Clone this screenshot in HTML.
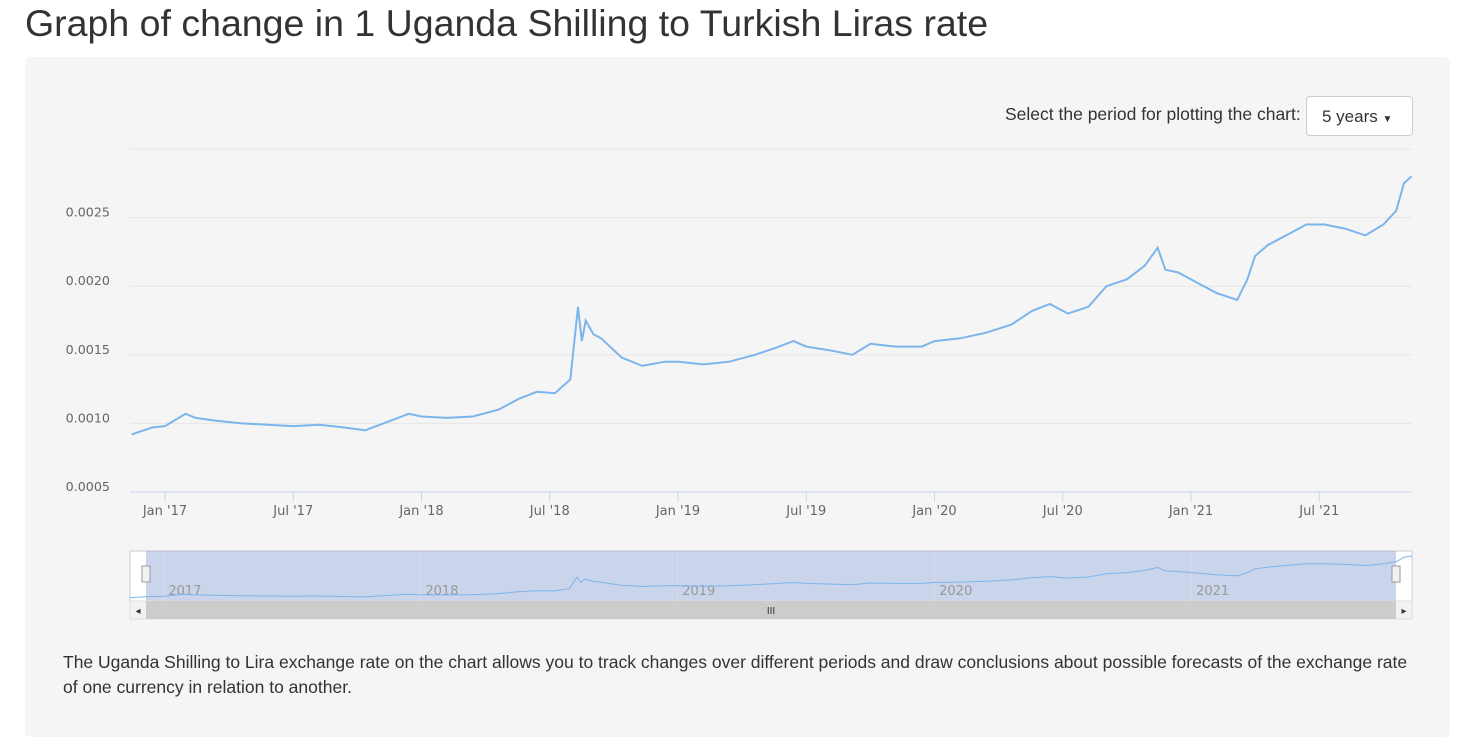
<!DOCTYPE html>
<html><head><meta charset="utf-8"><style>
body{margin:0;width:1472px;height:754px;background:#fff;font-family:"Liberation Sans",sans-serif;overflow:hidden;position:relative}
h1{position:absolute;left:25px;top:2px;margin:0;font-weight:400;font-size:37.5px;color:#333}
#panel{position:absolute;left:25px;top:57px;width:1425px;height:680px;background:#f5f5f5;border-radius:5px}
#sel-label{position:absolute;left:1005px;top:104px;font-size:17.5px;color:#333}
#period{position:absolute;left:1306px;top:96px;width:107px;height:40px;background:#fff;border:1px solid #ccc;border-radius:4px;font-size:17px;color:#333;box-sizing:border-box;padding:10px 0 0 15px}
#desc{position:absolute;left:63px;top:650px;width:1380px;font-size:17.5px;line-height:24.5px;color:#333;white-space:nowrap}
svg{position:absolute;left:0;top:0}
</style></head><body>
<h1>Graph of change in 1 Uganda Shilling to Turkish Liras rate</h1>
<div id="panel"></div>
<div id="sel-label">Select the period for plotting the chart:</div>
<div id="period">5 years <span style="font-size:10px">▼</span></div>
<svg id="chart" width="1472" height="754"></svg>
<div id="desc">The Uganda Shilling to Lira exchange rate on the chart allows you to track changes over different periods and draw conclusions about possible forecasts of the exchange rate<br>of one currency in relation to another.</div>
<script>
const dates=[2016.87,2016.95,2017.0,2017.08,2017.12,2017.2,2017.3,2017.4,2017.5,2017.6,2017.7,2017.78,2017.88,2017.95,2018.0,2018.1,2018.2,2018.3,2018.38,2018.45,2018.52,2018.58,2018.61,2018.625,2018.64,2018.67,2018.7,2018.78,2018.86,2018.95,2019.0,2019.1,2019.2,2019.3,2019.38,2019.45,2019.5,2019.6,2019.68,2019.75,2019.85,2019.95,2020.0,2020.1,2020.2,2020.3,2020.38,2020.45,2020.52,2020.6,2020.67,2020.75,2020.82,2020.87,2020.9,2020.95,2021.02,2021.1,2021.18,2021.22,2021.25,2021.3,2021.38,2021.45,2021.52,2021.6,2021.68,2021.75,2021.8,2021.83,2021.86];
const rates=[0.00092,0.00097,0.00098,0.00107,0.00104,0.00102,0.00100,0.00099,0.00098,0.00099,0.00097,0.00095,0.00102,0.00107,0.00105,0.00104,0.00105,0.00110,0.00118,0.00123,0.00122,0.00132,0.00185,0.00160,0.00175,0.00165,0.00162,0.00148,0.00142,0.00145,0.00145,0.00143,0.00145,0.00150,0.00155,0.00160,0.00156,0.00153,0.00150,0.00158,0.00156,0.00156,0.00160,0.00162,0.00166,0.00172,0.00182,0.00187,0.00180,0.00185,0.00200,0.00205,0.00215,0.00228,0.00212,0.00210,0.00203,0.00195,0.00190,0.00205,0.00222,0.00230,0.00238,0.00245,0.00245,0.00242,0.00237,0.00245,0.00255,0.00275,0.00280];
const yTicks=[0.0005,0.0010,0.0015,0.0020,0.0025,0.0030];
const xTickLabels=["Jan '17","Jul '17","Jan '18","Jul '18","Jan '19","Jul '19","Jan '20","Jul '20","Jan '21","Jul '21"];
const xTickDates=[2017,2017.5,2018,2018.5,2019,2019.5,2020,2020.5,2021,2021.5];
const navLabels=["2017","2018","2019","2020","2021"];
const NS="http://www.w3.org/2000/svg",svg=document.getElementById('chart');
const DV='"DejaVu Sans",sans-serif';
function el(t,a,txt){const e=document.createElementNS(NS,t);for(const k in a)e.setAttribute(k,a[k]);if(txt)e.textContent=txt;svg.appendChild(e);return e;}
const X=d=>165+(d-2017)*256.5;
const Y=v=>149+(0.0030-v)/0.0005*68.6;
yTicks.forEach(v=>{
 const g=el('line',{x1:130,x2:1412,y1:Y(v),y2:Y(v),stroke:v==0.0005?'#ccd6eb':'#e6e6e6'});
 
 if(v<0.003){const t=el('text',{x:110,y:Y(v)-1,'text-anchor':'end','font-size':12.7,fill:'#666','font-family':DV},v.toFixed(4));
 }
});
xTickDates.forEach((d,i)=>{
 const t=el('text',{x:X(d),y:515,'text-anchor':'middle','font-size':13,fill:'#666','font-family':DV},xTickLabels[i]);
 
 const k=el('line',{x1:X(d),x2:X(d),y1:492,y2:502,stroke:'#ccd6eb'});
 
});
const p=el('path',{d:dates.map((d,i)=>(i?'L':'M')+X(d).toFixed(1)+','+Y(rates[i]).toFixed(1)).join(''),fill:'none',stroke:'#7cb5ec','stroke-width':2});

const nb=el('rect',{x:130,y:551,width:1282,height:50,fill:'#fff',stroke:'#ccc'});

const ns=el('rect',{x:146,y:551,width:1250,height:50,fill:'rgba(102,133,194,0.35)'});

const NX=d=>130+(d-2016.87)/(2021.86-2016.87)*1282;
const NY=v=>598-(v-0.0009)/(0.0028-0.0009)*42;
navLabels.forEach((l,i)=>{const x=NX(2017+i);
 const gl=el('line',{x1:x,x2:x,y1:551,y2:601,stroke:'#e6e6e6','stroke-opacity':0.5});
 const t=el('text',{x:x+5,y:595,'font-size':13,fill:'#999','font-family':DV},l);});
const np=el('path',{d:dates.map((d,i)=>(i?'L':'M')+NX(d).toFixed(1)+','+NY(rates[i]).toFixed(1)).join(''),fill:'none',stroke:'#7cb5ec','stroke-width':1});

[146,1396].forEach(x=>{const h=el('rect',{x:x-4,y:566,width:8,height:16,fill:'#f2f2f2',stroke:'#999'});
 });
const sb=el('rect',{x:130,y:601,width:1282,height:18,fill:'#f2f2f2',stroke:'#ddd'});
const st=el('rect',{x:146,y:601,width:1250,height:18,fill:'#ccc'});
const g1=el('text',{x:771,y:614,'text-anchor':'middle','font-size':10,fill:'#333'},'III');
const la=el('text',{x:138,y:614,'text-anchor':'middle','font-size':10,fill:'#333'},'◂');
const ra=el('text',{x:1404,y:614,'text-anchor':'middle','font-size':10,fill:'#333'},'▸');
</script>
</body></html>
